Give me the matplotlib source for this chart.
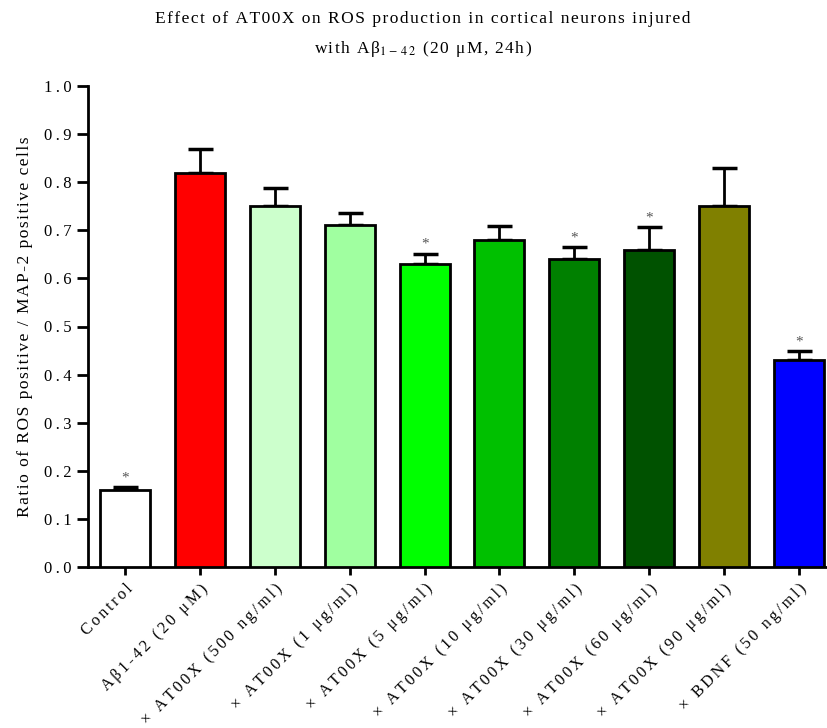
import matplotlib
matplotlib.use('Agg')
import matplotlib.pyplot as plt
import numpy as np

# data
labels = ['Control', 'Aβ1-42 (20 μM)', '× AT00X (500 ng/ml)', '× AT00X (1 μg/ml)',
          '× AT00X (5 μg/ml)', '× AT00X (10 μg/ml)', '× AT00X (30 μg/ml)',
          '× AT00X (60 μg/ml)', '× AT00X (90 μg/ml)', '× BDNF (50 ng/ml)']
values = [0.16, 0.82, 0.75, 0.71, 0.63, 0.68, 0.64, 0.66, 0.75, 0.43]
errors = [0.006, 0.048, 0.037, 0.027, 0.021, 0.028, 0.025, 0.047, 0.079, 0.019]
signif = [True, False, False, False, True, False, True, True, False, True]
colors = ['#FFFFFF', '#FF0000', '#CCFFCC', '#A0FFA0', '#00FF00', '#00C000',
          '#008000', '#005200', '#808000', '#0000FF']

plt.rcParams['font.family'] = ['Liberation Serif', 'DejaVu Serif']
plt.rcParams['mathtext.fontset'] = 'stix'

THIN = '\u2009'
HAIR = '\u200a'


def spaced(s, sp):
    # the reference uses wide letter spacing
    return sp.join(s)


fig = plt.figure(figsize=(8.27, 7.28), dpi=100)
ax = fig.add_axes([88 / 827, 1 - 567 / 728, (827 - 88) / 827, (567 - 86) / 728])

x = np.arange(len(values))
ax.bar(x, values, width=0.67, color=colors, edgecolor='black', linewidth=2, zorder=3)
ax.errorbar(x, values, yerr=[np.zeros(len(values)), errors], fmt='none',
            ecolor='black', elinewidth=2, capsize=9, capthick=2.5, zorder=2)

# significance stars
for xi, v, e, s in zip(x, values, errors, signif):
    if s:
        ax.text(xi, v + e + 0.006, '*', ha='center', va='bottom', fontsize=11, color='#555555')

ax.set_xlim(-0.5, (827 - 88) / 74.8 - 0.5)
ax.set_ylim(0, 1.0)
yt = np.arange(0, 1.01, 0.1)
ax.set_yticks(yt)
ax.set_yticklabels([spaced('%.1f' % t, THIN) for t in yt], fontsize=12)
ax.set_xticks(x)
ax.set_xticklabels([spaced(l, HAIR * 2) for l in labels], rotation=45, ha='right',
                   rotation_mode='anchor', fontsize=11.6)

for side in ['top', 'right']:
    ax.spines[side].set_visible(False)
for side in ['left', 'bottom']:
    ax.spines[side].set_linewidth(2)
ax.tick_params(axis='y', length=8, width=2, pad=4)
ax.tick_params(axis='x', length=6, width=2, pad=4)

ax.set_ylabel(spaced('Ratio of ROS positive / MAP-2 positive cells', HAIR),
              fontsize=12.5, labelpad=8)
title = (spaced('Effect of AT00X on ROS production in cortical neurons injured', HAIR) + '\n'
         + spaced('with Aβ', HAIR) + r'$_{\mathrm{1\,-\,4\,2}}$' + HAIR
         + spaced(' (20 μM, 24h)', HAIR))
ax.set_title(title, fontsize=12.5, linespacing=1.8, pad=24, x=0.453)

fig.savefig('out.png', dpi=100)
